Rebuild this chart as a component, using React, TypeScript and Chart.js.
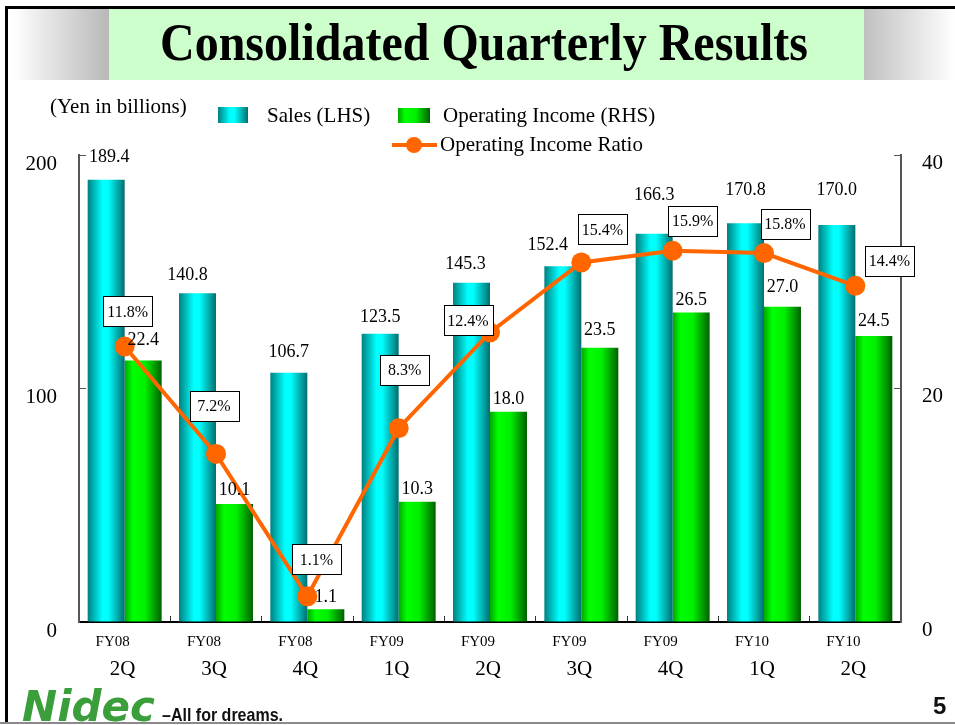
import React, { useEffect, useRef } from 'react';
import { Chart, registerables } from 'chart.js';

Chart.register(...registerables);

const fiscalYears = ['FY08', 'FY08', 'FY08', 'FY09', 'FY09', 'FY09', 'FY09', 'FY10', 'FY10'];
const quarters = ['2Q', '3Q', '4Q', '1Q', '2Q', '3Q', '4Q', '1Q', '2Q'];
const sales = [189.4, 140.8, 106.7, 123.5, 145.3, 152.4, 166.3, 170.8, 170.0];
const operatingIncome = [22.4, 10.1, 1.1, 10.3, 18.0, 23.5, 26.5, 27.0, 24.5];
const operatingRatio = [11.8, 7.2, 1.1, 8.3, 12.4, 15.4, 15.9, 15.8, 14.4];
const leftTicks = [0, 100, 200];
const rightTicks = [0, 20, 40];

// label placement nudges (layout only)
const salesLabelLift = [22, 18, 21, 16, 18, 21, 38, 33, 35];
const salesLabelShift = [3, -10, 0, 0, -6, -15, 0, 0, 0];
const incomeLabelLift = [20, 14, 12, 12, 13, 17, 12, 20, 15];
const ratioBoxOffset: [number, number][] = [
  [3, -35], [-2, -48], [9, -37], [6, -58], [-22, -12], [21, -33], [20, -30], [21, -29], [34, -25],
];

const SERIF = '"Liberation Serif", "Times New Roman", serif';
const SANS = '"Liberation Sans", Arial, sans-serif';

function cyanGradient(ctx: CanvasRenderingContext2D, x0: number, x1: number) {
  const g = ctx.createLinearGradient(x0, 0, x1, 0);
  g.addColorStop(0, '#008080');
  g.addColorStop(0.4, '#00ffff');
  g.addColorStop(0.55, '#00ffff');
  g.addColorStop(1, '#006e6e');
  return g;
}
function greenGradient(ctx: CanvasRenderingContext2D, x0: number, x1: number) {
  const g = ctx.createLinearGradient(x0, 0, x1, 0);
  g.addColorStop(0, '#00a800');
  g.addColorStop(0.22, '#00ff00');
  g.addColorStop(0.55, '#00f000');
  g.addColorStop(1, '#006000');
  return g;
}

const decorPlugin = {
  id: 'decor',
  beforeDraw(chart: any) {
    const ctx: CanvasRenderingContext2D = chart.ctx;
    const W = chart.width;
    ctx.save();
    ctx.fillStyle = '#ffffff';
    ctx.fillRect(0, 0, W, chart.height);
    // banner
    let g = ctx.createLinearGradient(13, 0, 109, 0);
    g.addColorStop(0, '#ffffff');
    g.addColorStop(1, '#b8b8b8');
    ctx.fillStyle = g;
    ctx.fillRect(8, 9, 101, 71);
    ctx.fillStyle = '#ccffcc';
    ctx.fillRect(109, 9, 755, 71);
    g = ctx.createLinearGradient(864, 0, 955, 0);
    g.addColorStop(0, '#c0c0c0');
    g.addColorStop(1, '#ffffff');
    ctx.fillStyle = g;
    ctx.fillRect(864, 9, 91, 71);
    // title
    ctx.fillStyle = '#000';
    ctx.font = `bold 52px ${SERIF}`;
    ctx.textBaseline = 'alphabetic';
    ctx.textAlign = 'left';
    const title = 'Consolidated Quarterly Results';
    const tw = ctx.measureText(title).width;
    const targetW = 648;
    ctx.save();
    ctx.translate(160, 60);
    ctx.scale(targetW / tw, 1);
    ctx.fillText(title, 0, 0);
    ctx.restore();
    // frame
    ctx.fillStyle = '#000';
    ctx.fillRect(5, 6, W - 5, 3);
    ctx.fillRect(5, 6, 3, 716);
    ctx.fillStyle = '#8a8a8a';
    ctx.fillRect(0, 722, W, 2);
    // unit
    ctx.fillStyle = '#000';
    ctx.font = `21px ${SERIF}`;
    ctx.textBaseline = 'middle';
    ctx.fillText('(Yen in billions)', 50, 107);
    // legend
    ctx.fillStyle = cyanGradient(ctx, 218, 248);
    ctx.fillRect(218, 107, 30, 16);
    ctx.fillStyle = greenGradient(ctx, 398, 430);
    ctx.fillRect(398, 108, 32, 15);
    ctx.fillStyle = '#000';
    ctx.fillText('Sales (LHS)', 267, 116);
    ctx.fillText('Operating Income (RHS)', 443, 116);
    ctx.strokeStyle = '#ff6600';
    ctx.lineWidth = 4;
    ctx.beginPath();
    ctx.moveTo(392, 145);
    ctx.lineTo(437, 145);
    ctx.stroke();
    ctx.fillStyle = '#ff6600';
    ctx.beginPath();
    ctx.arc(414, 145, 8, 0, Math.PI * 2);
    ctx.fill();
    ctx.fillStyle = '#000';
    ctx.fillText('Operating Income Ratio', 440, 145);
    // logo
    ctx.fillStyle = '#3a9e3a';
    ctx.font = `italic bold 43px "DejaVu Sans", ${SANS}`;
    ctx.textBaseline = 'alphabetic';
    const lw = ctx.measureText('Nidec').width;
    ctx.save();
    ctx.translate(22, 721);
    ctx.scale(133 / lw, 1);
    ctx.fillText('Nidec', 0, 0);
    ctx.restore();
    ctx.fillStyle = '#111';
    ctx.font = `bold 19px ${SANS}`;
    const sw = ctx.measureText('\u2013All for dreams.').width;
    ctx.save();
    ctx.translate(162, 721);
    ctx.scale(121 / sw, 1);
    ctx.fillText('\u2013All for dreams.', 0, 0);
    ctx.restore();
    ctx.font = `bold 24px ${SANS}`;
    ctx.fillText('5', 933, 714);
    ctx.restore();
  },
  beforeDatasetsDraw(chart: any) {
    const ctx: CanvasRenderingContext2D = chart.ctx;
    [0, 1].forEach((di) => {
      const meta = chart.getDatasetMeta(di);
      meta.data.forEach((el: any) => {
        const p = el.getProps(['x', 'width'], true);
        const x0 = p.x - p.width / 2;
        const x1 = p.x + p.width / 2;
        const bg = di === 0 ? cyanGradient(ctx, x0, x1) : greenGradient(ctx, x0, x1);
        el.options = { ...el.options, backgroundColor: bg };
      });
    });
  },
  afterDatasetsDraw(chart: any) {
    const ctx: CanvasRenderingContext2D = chart.ctx;
    ctx.save();
    ctx.fillStyle = '#000';
    ctx.textAlign = 'center';
    ctx.textBaseline = 'middle';
    ctx.font = `18px ${SERIF}`;
    chart.getDatasetMeta(0).data.forEach((el: any, i: number) => {
      ctx.fillText(sales[i].toFixed(1), el.x + salesLabelShift[i], el.y - salesLabelLift[i]);
    });
    chart.getDatasetMeta(1).data.forEach((el: any, i: number) => {
      ctx.fillText(operatingIncome[i].toFixed(1), el.x, el.y - incomeLabelLift[i]);
    });
    ctx.font = `16px ${SERIF}`;
    chart.getDatasetMeta(2).data.forEach((el: any, i: number) => {
      const [dx, dy] = ratioBoxOffset[i];
      const cx = el.x + dx;
      const cy = el.y + dy;
      const bw = 49;
      const bh = 30;
      ctx.fillStyle = '#fff';
      ctx.fillRect(Math.round(cx - bw / 2) + 0.5, Math.round(cy - bh / 2) + 0.5, bw, bh);
      ctx.strokeStyle = '#000';
      ctx.lineWidth = 1;
      ctx.strokeRect(Math.round(cx - bw / 2) + 0.5, Math.round(cy - bh / 2) + 0.5, bw, bh);
      ctx.fillStyle = '#000';
      ctx.fillText(operatingRatio[i].toFixed(1) + '%', cx, cy + 1);
    });
    // fiscal year line of x labels
    const xs = chart.scales.x;
    ctx.font = `15px ${SERIF}`;
    fiscalYears.forEach((fy, i) => {
      ctx.fillText(fy, xs.getPixelForValue(i) - 12, 642);
    });
    ctx.restore();
  },
};

export default function App() {
  const ref = useRef<HTMLCanvasElement>(null);
  useEffect(() => {
    if (!ref.current) return;
    const chart = new Chart(ref.current, {
      type: 'bar',
      data: {
        labels: quarters,
        datasets: [
          {
            type: 'bar',
            label: 'Sales (LHS)',
            data: sales,
            yAxisID: 'y',
            backgroundColor: () => '#00cccc',
            borderWidth: 0,
            categoryPercentage: 0.81,
            barPercentage: 1,
            order: 1,
          },
          {
            type: 'bar',
            label: 'Operating Income (RHS)',
            data: operatingIncome,
            yAxisID: 'y1',
            backgroundColor: () => '#00cc00',
            borderWidth: 0,
            categoryPercentage: 0.81,
            barPercentage: 1,
            order: 1,
          },
          {
            type: 'line',
            label: 'Operating Income Ratio',
            data: operatingRatio,
            yAxisID: 'y2',
            borderColor: '#ff6600',
            backgroundColor: '#ff6600',
            borderWidth: 4,
            pointRadius: 10,
            pointBorderWidth: 0,
            pointBackgroundColor: '#ff6600',
            tension: 0,
            order: 0,
          },
        ] as any,
      },
      plugins: [decorPlugin],
      options: {
        animation: false,
        responsive: false,
        layout: { padding: { top: 155, left: 0, right: 0, bottom: 0 } },
        plugins: { legend: { display: false }, tooltip: { enabled: false }, title: { display: false } },
        scales: {
          x: {
            type: 'category',
            offset: true,
            grid: { display: true, drawOnChartArea: false, drawTicks: true, tickLength: -6, color: '#333', offset: true },
            border: { display: true, color: '#000', width: 2 },
            ticks: {
              color: '#000',
              font: { family: SERIF, size: 21 },
              padding: 41,
              labelOffset: -2,
              maxRotation: 0,
              autoSkip: false,
            },
            afterFit: (s: any) => { s.height = 103; },
          },
          y: {
            position: 'left',
            min: 0,
            max: 200,
            afterBuildTicks: (s: any) => { s.ticks = leftTicks.map((v) => ({ value: v })); },
            grid: { drawOnChartArea: false, drawTicks: true, tickLength: -7, color: '#555' },
            border: { display: true, color: '#555', width: 2 },
            ticks: { color: '#000', font: { family: SERIF, size: 21 }, padding: 29, labelOffset: 9 },
            afterFit: (s: any) => { s.width = 79; },
          },
          y1: {
            position: 'right',
            min: 0,
            max: 40,
            afterBuildTicks: (s: any) => { s.ticks = rightTicks.map((v) => ({ value: v })); },
            grid: { drawOnChartArea: false, drawTicks: true, tickLength: -7, color: '#555' },
            border: { display: true, color: '#555', width: 2 },
            ticks: { color: '#000', font: { family: SERIF, size: 21 }, padding: 28, labelOffset: 8 },
            afterFit: (s: any) => { s.width = 54; },
          },
          y2: {
            display: false,
            min: 0,
            max: 20,
          },
        },
      } as any,
    });
    return () => chart.destroy();
  }, []);
  return (
    <div style={{ position: 'fixed', left: 0, top: 0, width: 955, height: 725 }}>
      <canvas ref={ref} width={955} height={725} style={{ display: 'block' }} />
    </div>
  );
}
